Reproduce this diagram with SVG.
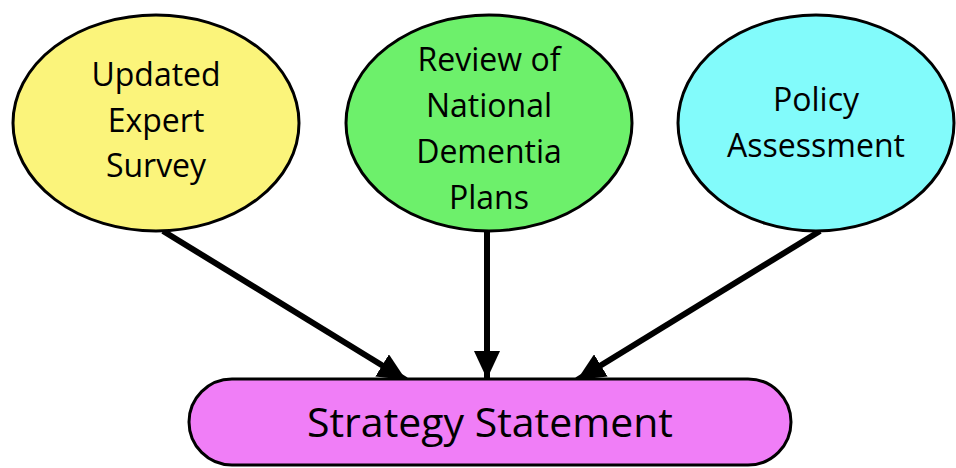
<svg xmlns="http://www.w3.org/2000/svg" width="956" height="468" viewBox="0 0 956 468">
<style>
.node{stroke:#000;stroke-width:3}
.lbl{font-family:"Open Sans","Liberation Sans",sans-serif;font-size:32px;fill:#000;text-anchor:middle}
.big{font-size:41px}
.conn{stroke:#000;stroke-width:6;fill:none}
</style>
<defs>
<marker id="ah" markerUnits="userSpaceOnUse" markerWidth="28" markerHeight="26" viewBox="0 0 28 26" refX="28" refY="13" orient="auto">
<polygon points="0,0 28,13 0,26" fill="#000"/>
</marker>
</defs>
<rect width="956" height="468" fill="#fff"/>
<g id="connectors">
<line class="conn" x1="163" y1="231" x2="406" y2="380" marker-end="url(#ah)"/>
<line class="conn" x1="487" y1="230" x2="487" y2="379" marker-end="url(#ah)"/>
<line class="conn" x1="820" y1="231" x2="577" y2="380" marker-end="url(#ah)"/>
</g>
<g id="n1">
<ellipse class="node" cx="156" cy="123" rx="143" ry="108" fill="#fbf47b"/>
<text class="lbl" x="156" y="86">Updated</text>
<text class="lbl" x="156" y="132">Expert</text>
<text class="lbl" x="156" y="177">Survey</text>
</g>
<g id="n2">
<ellipse class="node" cx="489" cy="123" rx="143" ry="108" fill="#6df06b"/>
<text class="lbl" x="489" y="71">Review of</text>
<text class="lbl" x="489" y="117">National</text>
<text class="lbl" x="489" y="163">Dementia</text>
<text class="lbl" x="489" y="209">Plans</text>
</g>
<g id="n3">
<ellipse class="node" cx="816" cy="123" rx="138" ry="108" fill="#82fbfb"/>
<text class="lbl" x="816" y="111">Policy</text>
<text class="lbl" x="816" y="157">Assessment</text>
</g>
<g id="n4">
<rect class="node" x="189" y="379" width="602" height="86" rx="43" ry="43" fill="#f07ef7"/>
<text class="lbl big" x="490" y="437">Strategy Statement</text>
</g>
</svg>
